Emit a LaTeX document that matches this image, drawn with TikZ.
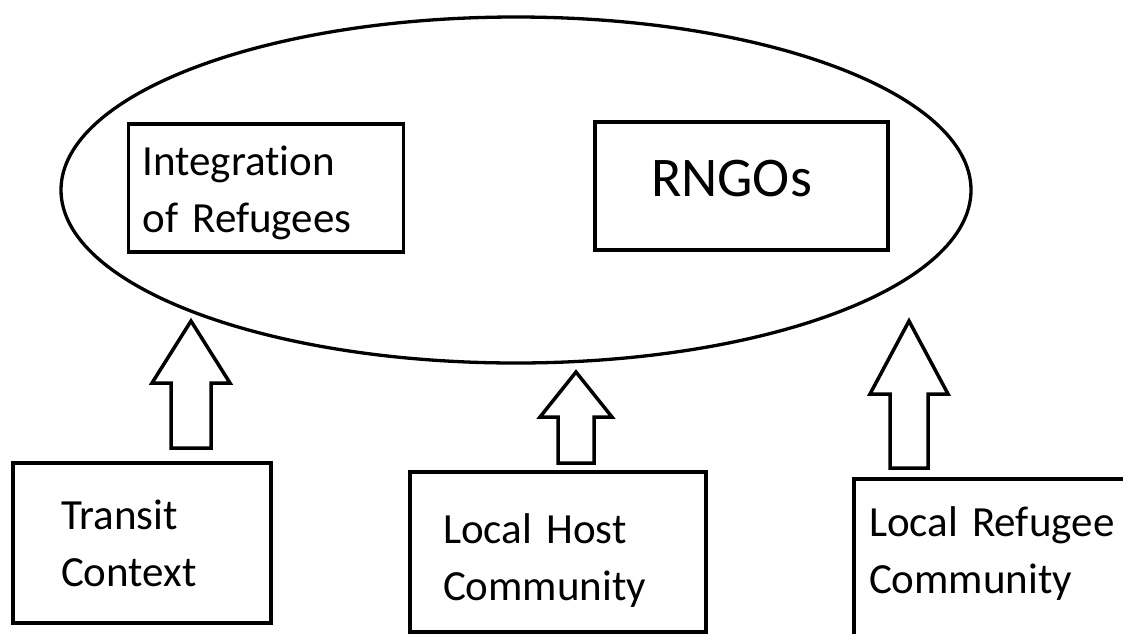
\documentclass[tikz,border=0pt]{standalone}
\usepackage{fontspec}
\setmainfont{Carlito}[Ligatures={NoCommon}]
\usepackage{tikz}
\usetikzlibrary{calc, shapes.geometric}
\definecolor{ink}{RGB}{0, 0, 0}
\tikzset{
  box/.style={draw=ink, line width=3.5pt, inner ysep=0pt, align=left,
    font=\fontsize{43}{57}\selectfont},
  blockarrow/.style={draw=ink, line width=3.5pt, line join=miter, fill=white}
}

\begin{document}
\begin{tikzpicture}[x=1pt, y=-1pt]
        \useasboundingbox (0,0) rectangle (1123,633);
        \node[draw=ink, ellipse, line width=3.3pt, minimum width=910pt, minimum height=346pt, inner sep=0pt] (field) at (516,190) {};
        \node[box, minimum width=275pt, minimum height=128pt, inner xsep=14pt, text width=247pt, text height=40pt] (integ) at (266,188) {Integration\\of Refugees};
        \node[box, minimum width=293pt, minimum height=128pt, inner xsep=56pt, text width=181pt, text depth=16pt, font=\fontsize{56}{66}\selectfont] (rngo) at (741.5,186) {RNGOs};
        \node[box, minimum width=258pt, minimum height=160pt, inner xsep=48pt, text width=162pt] (transit) at (142,543) {Transit\\Context};
        \node[box, minimum width=296pt, minimum height=160pt, inner xsep=33pt, text width=230pt, text height=46pt] (host) at (558,552) {Local Host\\Community};
        \node[box, minimum width=281pt, minimum height=161pt, inner xsep=15pt, text width=251pt, text height=17pt] (refcom) at (994.5,559.5) {Local Refugee\\Community};
        \foreach \cx/\by/\sw/\hw/\hy/\ty in {191/448/20/39/383/321, 576/463/18/36/417/372, 909/468/19/39/394/321}
          \draw[blockarrow] (\cx-\sw,\by) -- (\cx-\sw,\hy) -- (\cx-\hw,\hy) -- (\cx,\ty)
            -- (\cx+\hw,\hy) -- (\cx+\sw,\hy) -- (\cx+\sw,\by) -- cycle;
      \end{tikzpicture}
\end{document}
